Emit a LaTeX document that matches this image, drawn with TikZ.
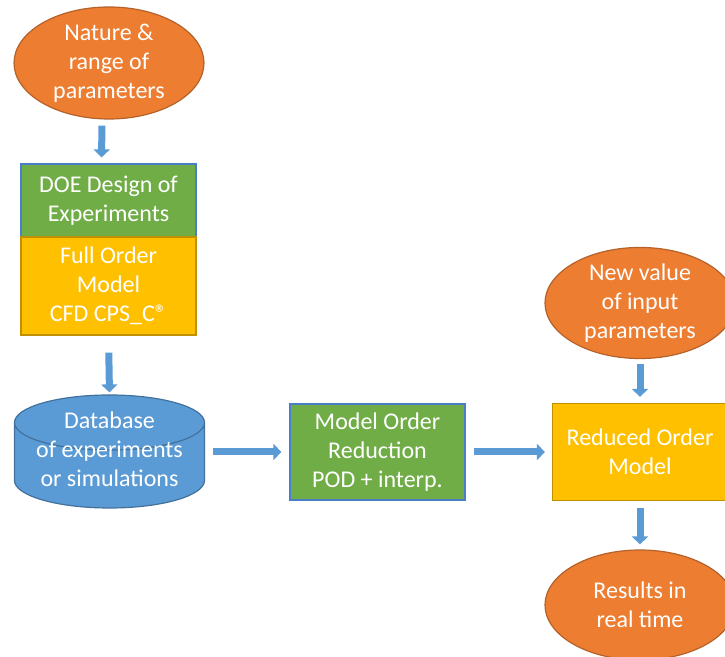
\documentclass[tikz,border=0pt]{standalone}
\usepackage{fontspec}
\setmainfont{Carlito}
\usetikzlibrary{shapes.geometric,arrows.meta}

\definecolor{ornge}{HTML}{ED7D31}
\definecolor{orngeline}{HTML}{B5612A}
\definecolor{grn}{HTML}{70AD47}
\definecolor{grnline}{HTML}{4A7EC8}
\definecolor{ylw}{HTML}{FFC000}
\definecolor{ylwline}{HTML}{C09000}
\definecolor{blu}{HTML}{5B9BD5}
\definecolor{bluline}{HTML}{41719C}

\tikzset{
  param/.style={ellipse, fill=ornge, draw=orngeline, line width=0.6pt,
    minimum width=95pt, inner sep=0pt},
  greenbox/.style={rectangle, fill=grn, draw=grnline, line width=0.6pt,
    minimum width=87.5pt},
  yellowbox/.style={rectangle, fill=ylw, draw=ylwline, line width=0.6pt,
    minimum width=87.5pt},
  dbase/.style={cylinder, shape border rotate=90, aspect=0.29, fill=blu,
    draw=bluline, line width=0.6pt, text width=88pt, inner sep=3.5pt,
    minimum height=56.5pt, anchor=shape center},
  flow/.style={draw=blu, line width=3.5pt,
    -{Triangle[length=4pt,width=8pt]}, shorten <=3pt, shorten >=3pt},
}

\begin{document}
\begin{tikzpicture}[x=0.5pt,y=-0.5pt,
  every node/.append style={text=white, align=center,
    font=\fontsize{12}{14.5}\selectfont}]
\useasboundingbox (0,0) rectangle (725,657);

% left column
\node[param, minimum height=56pt] (nat) at (109,63) {Nature \&\\range of\\parameters};
\node[greenbox, minimum height=36.5pt] (doe) at (108.5,200.5) {DOE Design of\\Experiments};
\node[yellowbox, minimum height=49pt] (fom) at (108.5,286) {Full Order\\Model\\CFD CPS\_C®};
\node[dbase] (db) at (109.5,451.5) {};
\node (dbtext) at (109.5,449) {Database\\of experiments\\or simulations};

% middle
\node[greenbox, minimum height=48pt] (mor) at (377.5,452) {Model Order\\Reduction\\POD + interp.};

% right column
\node[param, minimum height=50pt] (newv) at (640,303) {New value\\of input\\parameters};
\node[yellowbox, minimum height=48.5pt] (rom) at (640,452) {Reduced Order\\Model};
\node[param, minimum height=55pt] (res) at (640,605) {Results in\\real time};

% arrows
\draw[flow] ([xshift=-3.5pt]nat.south) -- ([xshift=-3.5pt]doe.north);
\draw[flow, shorten <=8.5pt, shorten >=1pt] (fom.south) -- (db.top);
\draw[flow, shorten <=4pt, shorten >=4pt] (db.east |- mor.west) -- (mor.west);
\draw[flow, shorten <=4pt, shorten >=3.5pt] (mor.east) -- (rom.west);
\draw[flow, shorten <=2.5pt] (newv.south) -- (rom.north);
\draw[flow, shorten <=3.5pt, shorten >=2.5pt] (rom.south) -- (res.north);
\end{tikzpicture}
\end{document}
